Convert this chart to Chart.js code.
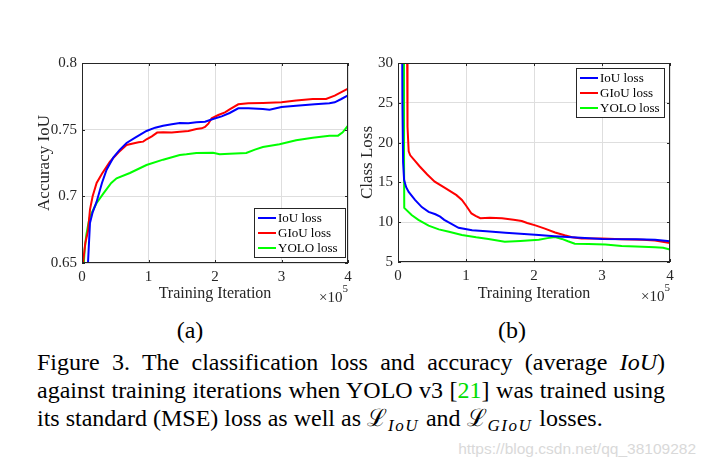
<!DOCTYPE html>
<html lang="en">
<head>
<meta charset="UTF-8">
<title>Figure 3 | IoU / GIoU / YOLO loss</title>
<script src="https://cdn.jsdelivr.net/npm/chart.js"></script>
<style>
    body {
        margin: 0;
        width: 705px;
        height: 471px;
        background: #fff;
        position: relative;
        overflow: hidden;
        font-family: "Liberation Serif", "Times New Roman", serif;
        color: #000;
    }
    .plot { position: absolute; top: 0; width: 360px; height: 310px; }
    #plotA { left: 0; }
    #plotB { left: 345px; }
    .sub { position: absolute; top: 316px; width: 60px; text-align: center; font-size: 24px; line-height: 28px; }
    .cap { position: absolute; left: 37px; width: 628px; font-size: 24px; line-height: 28px; white-space: nowrap; }
    .just { text-align: justify; text-align-last: justify; }
    .cite { color: #00dd00; }
    .cap sub { font-size: 17px; vertical-align: -5px; line-height: 0; letter-spacing: 1.5px; margin-left: 1px; margin-right: 1px; }
    .wm {
        position: absolute; right: 9px; top: 440px;
        font-family: "Liberation Sans", Arial, sans-serif; font-size: 15.5px; color: #d9d9d9;
    }
</style>
</head>
<body>

<div class="plot" id="plotA"><canvas id="chartA"></canvas></div>
<div class="plot" id="plotB"><canvas id="chartB"></canvas></div>

<div class="sub" style="left:160px">(a)</div>
<div class="sub" style="left:482px">(b)</div>

<div class="cap just" style="top:348px">Figure 3. The classification loss and accuracy (average <i>IoU</i>)</div>
<div class="cap just" style="top:376px">against training iterations when YOLO v3 [<span class="cite">21</span>] was trained using</div>
<div class="cap" style="top:404px">its standard (MSE) loss as well as ℒ<sub><i>IoU</i></sub> and ℒ<sub><i>GIoU</i></sub> losses.</div>

<div class="wm">https://blog.csdn.net/qq_38109282</div>

<script>
    // (a) accuracy - x em unidades de 10^5 iteracoes
    var accIouX  = [0.06, 0.09, 0.12, 0.16, 0.22, 0.3, 0.37, 0.47, 0.57, 0.67, 0.8, 0.97, 1.1, 1.22, 1.35, 1.47, 1.6, 1.72, 1.85, 1.97, 2.1, 2.22, 2.35, 2.5, 2.72, 2.82, 3.0, 3.22, 3.5, 3.72, 3.8, 3.9, 4.0]
    var accIouY  = [0.63, 0.65, 0.68, 0.688, 0.696, 0.71, 0.72, 0.729, 0.735, 0.740, 0.744, 0.749, 0.7515, 0.753, 0.754, 0.755, 0.7548, 0.7555, 0.756, 0.758, 0.760, 0.7625, 0.766, 0.766, 0.7655, 0.765, 0.767, 0.768, 0.769, 0.7698, 0.7705, 0.773, 0.7757]
    var accGiouX = [0.015, 0.05, 0.09, 0.12, 0.16, 0.22, 0.3, 0.42, 0.55, 0.67, 0.75, 0.85, 0.92, 0.97, 1.05, 1.13, 1.22, 1.35, 1.47, 1.6, 1.72, 1.8, 1.85, 1.9, 1.95, 2.05, 2.15, 2.22, 2.35, 2.5, 2.72, 3.0, 3.22, 3.47, 3.67, 3.8, 4.0]
    var accGiouY = [0.65, 0.665, 0.674, 0.69, 0.7, 0.71, 0.717, 0.726, 0.733, 0.7385, 0.7395, 0.7405, 0.741, 0.7428, 0.745, 0.7478, 0.748, 0.7478, 0.7485, 0.749, 0.7505, 0.751, 0.752, 0.7545, 0.7585, 0.761, 0.763, 0.7652, 0.769, 0.7698, 0.77, 0.7705, 0.7718, 0.773, 0.773, 0.7755, 0.7807]
    var accYoloX = [0.015, 0.04, 0.065, 0.09, 0.115, 0.16, 0.22, 0.32, 0.44, 0.52, 0.72, 0.97, 1.22, 1.47, 1.57, 1.72, 1.97, 2.07, 2.22, 2.47, 2.6, 2.72, 2.97, 3.22, 3.47, 3.72, 3.85, 3.92, 4.0]
    var accYoloY = [0.64, 0.66, 0.671, 0.678, 0.684, 0.689, 0.695, 0.702, 0.71, 0.7135, 0.7175, 0.7235, 0.7275, 0.731, 0.7315, 0.7325, 0.7327, 0.7315, 0.732, 0.7325, 0.735, 0.737, 0.739, 0.742, 0.744, 0.7455, 0.7455, 0.748, 0.753]

    // (b) class loss
    var lossIouX  = [0.055, 0.065, 0.075, 0.09, 0.12, 0.157, 0.25, 0.35, 0.45, 0.55, 0.62, 0.68, 0.74, 0.89, 1.09, 1.3, 1.58, 1.8, 2.07, 2.3, 2.56, 3.0, 3.5, 3.78, 4.0]
    var lossIouY  = [45, 25, 17.5, 15.3, 14.4, 13.8, 12.8, 11.9, 11.3, 11.0, 10.7, 10.3, 10.0, 9.3, 9.0, 8.85, 8.66, 8.55, 8.4, 8.25, 8.1, 7.9, 7.85, 7.8, 7.6]
    var lossGiouX = [0.12, 0.135, 0.14, 0.157, 0.18, 0.25, 0.32, 0.43, 0.54, 0.69, 0.86, 0.94, 1.0, 1.08, 1.14, 1.21, 1.35, 1.53, 1.7, 1.82, 1.9, 2.02, 2.16, 2.31, 2.45, 2.56, 2.7, 3.0, 3.29, 3.6, 3.78, 4.0]
    var lossGiouY = [45, 30, 22, 18.9, 18.4, 17.7, 17.0, 16.0, 15.1, 14.3, 13.4, 12.8, 12.1, 11.1, 10.8, 10.5, 10.55, 10.5, 10.3, 10.15, 9.9, 9.6, 9.2, 8.7, 8.35, 8.1, 7.95, 7.95, 7.86, 7.8, 7.7, 7.4]
    var lossYoloX = [0.08, 0.088, 0.092, 0.2, 0.3, 0.45, 0.6, 0.75, 0.94, 1.15, 1.33, 1.57, 1.8, 2.07, 2.2, 2.31, 2.41, 2.5, 2.6, 2.8, 3.05, 3.29, 3.5, 3.78, 3.9, 4.0]
    var lossYoloY = [45, 20, 11.8, 10.9, 10.3, 9.56, 9.1, 8.8, 8.4, 8.1, 7.9, 7.55, 7.65, 7.8, 8.0, 8.15, 7.9, 7.6, 7.3, 7.25, 7.2, 7.0, 6.95, 6.85, 6.8, 6.55]

    var nomes = ['IoU loss', 'GIoU loss', 'YOLO loss']
    var cores = ['#0000ff', '#ff0000', '#00ff00']
    var corTexto = '#262626'
    var fonte = '"Liberation Serif", "Times New Roman", serif'

    function pontos(xs, ys) {
        return xs.map((x, i) => ({ x: x, y: ys[i] }))
    }

    function serie(i, xs, ys) {
        return {
            label: nomes[i],
            data: pontos(xs, ys),
            borderColor: cores[i],
            backgroundColor: cores[i],
            borderWidth: 2,
            pointRadius: 0,
            tension: 0,
            clip: 0
        }
    }

    // caixa estilo matlab, ticks internos, legenda e x10^5
    const caixaPlugin = {
        id: 'caixa',
        afterDraw(chart, args, opts) {
            const ctx = chart.ctx
            const a = chart.chartArea
            const sx = chart.scales.x, sy = chart.scales.y
            ctx.save()
            ctx.strokeStyle = corTexto
            ctx.lineWidth = 1
            ctx.strokeRect(Math.round(a.left) + 0.5, Math.round(a.top) + 0.5, Math.round(a.right - a.left) - 1, Math.round(a.bottom - a.top) - 1)
            ctx.beginPath()
            sx.ticks.forEach(t => {
                const px = Math.round(sx.getPixelForValue(t.value)) + 0.5
                ctx.moveTo(px, a.bottom); ctx.lineTo(px, a.bottom - 3)
                ctx.moveTo(px, a.top); ctx.lineTo(px, a.top + 3)
            })
            sy.ticks.forEach(t => {
                const py = Math.round(sy.getPixelForValue(t.value)) + 0.5
                ctx.moveTo(a.left, py); ctx.lineTo(a.left + 3, py)
                ctx.moveTo(a.right, py); ctx.lineTo(a.right - 3, py)
            })
            ctx.stroke()

            // legenda
            const L = opts.legenda
            ctx.fillStyle = '#fff'
            ctx.fillRect(L.x, L.y, L.w, L.h)
            ctx.strokeRect(L.x + 0.5, L.y + 0.5, L.w, L.h)
            ctx.font = '13px ' + fonte
            ctx.textBaseline = 'middle'
            ctx.textAlign = 'left'
            chart.data.datasets.forEach((ds, i) => {
                const yy = L.y + 10 + i * 15
                ctx.strokeStyle = ds.borderColor
                ctx.lineWidth = 2
                ctx.beginPath()
                ctx.moveTo(L.x + 4, yy); ctx.lineTo(L.x + 22, yy)
                ctx.stroke()
                ctx.fillStyle = '#000'
                ctx.fillText(ds.label, L.x + 24, yy + 0.5)
            })

            // x10^5
            ctx.fillStyle = corTexto
            ctx.textBaseline = 'alphabetic'
            ctx.textAlign = 'right'
            ctx.font = '11px ' + fonte
            const w5 = ctx.measureText('5').width
            ctx.fillText('5', a.right, a.bottom + 29)
            ctx.font = '15px ' + fonte
            ctx.fillText('×10', a.right - w5, a.bottom + 39)
            ctx.restore()
        }
    }

    function config(datasets, ymin, ymax, ystep, ytitulo, ylarg, xalt, padDir, tituloPad, legenda) {
        return {
            type: 'line',
            data: { datasets: datasets },
            options: {
                responsive: true,
                maintainAspectRatio: false,
                animation: false,
                layout: { padding: { left: 0, top: 63, right: padDir, bottom: 0 } },
                plugins: {
                    legend: { display: false },
                    tooltip: { enabled: false },
                    caixa: { legenda: legenda }
                },
                scales: {
                    x: {
                        type: 'linear',
                        min: 0, max: 4,
                        ticks: { stepSize: 1, padding: 5, color: corTexto, font: { family: fonte, size: 15 } },
                        grid: { color: '#dedede', drawTicks: false },
                        border: { display: false },
                        title: { display: true, text: 'Training Iteration', color: corTexto, font: { family: fonte, size: 16 }, padding: { top: 0, bottom: 7 } },
                        afterFit: s => { s.height = xalt }
                    },
                    y: {
                        min: ymin, max: ymax,
                        ticks: {
                            stepSize: ystep, padding: 5, color: corTexto, font: { family: fonte, size: 15 },
                            callback: v => String(Number(v.toFixed(2)))
                        },
                        grid: { color: '#dedede', drawTicks: false },
                        border: { display: false },
                        title: { display: true, text: ytitulo, color: corTexto, font: { family: fonte, size: 17 }, padding: { top: tituloPad, bottom: 0 } },
                        afterFit: s => { s.width = ylarg }
                    }
                }
            },
            plugins: [caixaPlugin]
        }
    }

    const chartA = new Chart(document.getElementById('chartA'), config(
        [serie(0, accIouX, accIouY), serie(1, accGiouX, accGiouY), serie(2, accYoloX, accYoloY)],
        0.65, 0.8, 0.05, 'Accuracy IoU', 82, 47, 12, 34,
        { x: 254, y: 208, w: 91, h: 49 }
    ))

    const chartB = new Chart(document.getElementById('chartB'), config(
        [serie(0, lossIouX, lossIouY), serie(1, lossGiouX, lossGiouY), serie(2, lossYoloX, lossYoloY)],
        5, 30, 5, 'Class Loss', 53, 48, 35, 12,
        { x: 231, y: 68, w: 88, h: 49 }
    ))
</script>
</body>
</html>
